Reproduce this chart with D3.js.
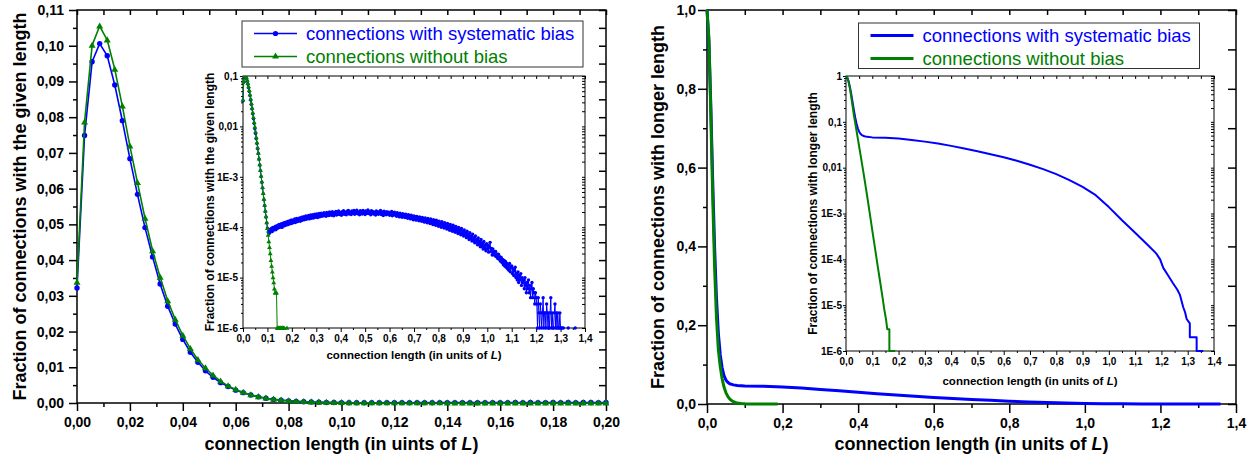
<!DOCTYPE html>
<html>
<head>
<meta charset="utf-8">
<script src="https://cdn.jsdelivr.net/npm/d3@7"></script>
<style>
  body { margin: 0; background: #fff; }
  svg { display: block; font-family: "Liberation Sans", Arial, sans-serif; }
</style>
</head>
<body>
<div id="chart"></div>
<script>
// histogram bin width (units of L); bin i starts at i * BIN
const BIN = 1 / 350

// fraction of connections with the given length, in parts per million
const biasedPpm = [
  32200, 74900, 95500, 100600, 97200, 89000, 79000, 68400, 58400, 49100,
  40900, 33300, 27100, 22100, 17800, 14200, 11400, 9000, 7200, 5700,
  4600, 3600, 2900, 2250, 1720, 1320, 1010, 780, 600, 460,
  350, 270, 205, 160, 122, 96, 80, 86, 76, 91,
  84, 95, 82, 99, 88, 96, 103, 89, 106, 94,
  109, 97, 114, 100, 104, 118, 99, 112, 121, 106,
  124, 109, 117, 128, 112, 131, 115, 122, 136, 118,
  139, 121, 133, 127, 145, 124, 138, 149, 129, 142,
  135, 152, 131, 146, 158, 137, 149, 162, 140, 155,
  167, 144, 158, 150, 171, 146, 163, 175, 151, 160,
  178, 152, 169, 181, 158, 165, 184, 156, 176, 187,
  161, 173, 190, 164, 179, 168, 194, 171, 183, 165,
  197, 174, 186, 170, 200, 177, 189, 172, 203, 181,
  168, 195, 185, 206, 174, 192, 183, 210, 178, 196,
  187, 172, 204, 191, 212, 180, 198, 189, 176, 207,
  194, 215, 183, 201, 192, 178, 210, 197, 186, 214,
  181, 203, 195, 218, 185, 199, 190, 176, 212, 196,
  205, 183, 216, 192, 200, 179, 209, 194, 188, 220,
  186, 202, 195, 177, 213, 190, 206, 182, 199, 193,
  174, 211, 188, 203, 180, 197, 192, 215, 178, 200,
  187, 170, 208, 185, 196, 176, 204, 189, 181, 199,
  172, 193, 184, 206, 168, 190, 179, 198, 174, 187,
  165, 195, 176, 183, 160, 189, 171, 180, 158, 185,
  167, 176, 155, 182, 162, 171, 150, 178, 159, 168,
  146, 173, 155, 162, 141, 168, 151, 159, 138, 164,
  147, 155, 134, 160, 142, 151, 131, 157, 139, 146,
  126, 153, 133, 141, 122, 149, 128, 138, 118, 145,
  124, 134, 113, 141, 120, 129, 109, 137, 116, 124,
  104, 132, 112, 119, 100, 128, 107, 115, 96, 123,
  101, 110, 92, 119, 97, 105, 87, 114, 93, 100,
  83, 109, 88, 96, 79, 104, 84, 91, 75, 99,
  78, 87, 71, 94, 74, 82, 67, 88, 69, 77,
  62, 83, 64, 72, 57, 78, 60, 67, 53, 73,
  55, 62, 49, 67, 51, 57, 45, 61, 46, 52,
  41, 57, 42, 48, 37, 52, 38, 44, 34, 47,
  37, 44, 32, 40, 50, 33, 38, 28, 37, 29,
  33, 27, 33, 26, 29, 24, 29, 23, 26, 21,
  25, 20, 23, 18, 22, 17, 21, 16, 19, 15,
  18, 14, 19, 13, 16, 17, 12, 15, 11, 14,
  16, 10, 12, 9, 13, 8, 11, 9, 12, 7,
  10, 8, 9, 6, 10, 7, 5, 8, 6, 9,
  5, 7, 4, 6, 8, 4, 6, 5, 3, 5,
  4, 3, 1, 4, 2, 1, 3, 2, 1, 2,
  4, 1, 2, 2, 1, 3, 2, 1, 2, 1,
  2, 4, 1, 2, 1, 1, 2, 3, 1, 2,
  1, 2, 1, 1, 2, 1, 1, 1, 0, 1,
  0, 0, 0, 0, 0, 0, 1, 0, 0, 0,
  0, 0, 0, 0, 0, 0, 1
]
const unbiasedPpm = [
  33800, 78600, 100100, 105500, 101600, 93400, 83100, 71900, 61700, 51700,
  42600, 35200, 28600, 23400, 18900, 15200, 12100, 9800, 7800, 6100,
  4800, 3800, 2950, 2280, 1750, 1350, 1040, 800, 615, 470,
  360, 275, 212, 162, 124, 95, 70, 52, 40, 30,
  22, 17, 13, 10, 8, 6, 5, 5, 5, 1,
  1, 1, 1, 1, 1, 1, 1, 1, 1, 1,
  0, 0, 0, 1, 0, 0, 0, 0, 0, 0, 0
]

// fraction of connections with longer length: [length, fraction]
const biasedLonger = [
  [0, 1], [0.005, 0.92], [0.01, 0.76], [0.015, 0.57], [0.02, 0.40], [0.025, 0.27],
  [0.03, 0.18], [0.035, 0.125], [0.04, 0.092], [0.045, 0.072], [0.05, 0.061],
  [0.055, 0.055], [0.06, 0.0515], [0.07, 0.0485], [0.08, 0.047], [0.1, 0.0458],
  [0.15, 0.045], [0.2, 0.0432], [0.25, 0.0403], [0.3, 0.037], [0.35, 0.0335],
  [0.4, 0.0299], [0.45, 0.0263], [0.5, 0.0229], [0.55, 0.0197], [0.6, 0.0168],
  [0.65, 0.0141], [0.7, 0.0116], [0.75, 0.0093], [0.8, 0.00724], [0.85, 0.00537],
  [0.9, 0.0038], [0.95, 0.00251], [1.0, 0.00138], [1.05, 7.1e-4], [1.1, 3.8e-4],
  [1.15, 2.0e-4], [1.18, 1.35e-4], [1.195, 1.0e-4], [1.207, 6.5e-5],
  [1.225, 4.5e-5], [1.244, 3.0e-5], [1.26, 2.2e-5], [1.27, 1.7e-5], [1.283, 9e-6],
  [1.29, 7e-6], [1.296, 5e-6], [1.308, 4e-6], [1.308, 2e-6], [1.334, 2e-6],
  [1.334, 1e-6], [1.359, 1e-6]
]
const unbiasedLonger = [
  [0, 1], [0.005, 0.93], [0.01, 0.74], [0.015, 0.53], [0.02, 0.35], [0.025, 0.22],
  [0.03, 0.138], [0.035, 0.095], [0.04, 0.064], [0.045, 0.043], [0.05, 0.029],
  [0.055, 0.0195], [0.06, 0.013], [0.065, 0.0087], [0.07, 0.0058], [0.075, 0.0038],
  [0.08, 0.0025], [0.09, 0.00105], [0.1, 4.3e-4], [0.11, 1.8e-4], [0.12, 7.5e-5],
  [0.13, 3.2e-5], [0.14, 1.35e-5], [0.145, 8.5e-6], [0.152, 5e-6], [0.157, 3e-6],
  [0.165, 3e-6], [0.165, 1e-6], [0.187, 1e-6]
]

const seriesNames = ["connections with systematic bias", "connections without bias"]
const BLUE = "#0000ff", GREEN = "#008000"

const loc = d3.formatLocale({decimal: ",", thousands: ".", grouping: [3], currency: ["", ""]})
const f2 = loc.format(".2f"), f1 = loc.format(".1f")
const logLabel = v => {
  const e = Math.round(Math.log10(v))
  if (e === 0) return "1"
  return e >= -2 ? "0," + "0".repeat(-e - 1) + "1" : `1E${e}`
}

const svg = d3.select("#chart").append("svg").attr("width", 1253).attr("height", 459)
const defs = svg.append("defs")

const bins = ppm => ppm.map((v, i) => ({x: i * BIN, y: v / 1e6}))
const pairs = arr => arr.map(([x, y]) => ({x, y}))
const steps = (a, b, s) => d3.range(a, b + s / 2, s)

function addAxis(g, axis, tx, ty, size, width) {
  const a = g.append("g").attr("transform", `translate(${tx},${ty})`).call(axis)
    .attr("font-family", null).attr("font-size", null)
  a.select(".domain").remove()
  a.selectAll("line").attr("stroke", "#000").attr("stroke-width", width)
  a.selectAll("text").attr("fill", "#000").style("font-size", size + "px").style("font-weight", "bold")
  return a
}

// draw four-sided axis frame; o holds tick sets and sizes
function frame(g, x, y, o) {
  const [x0, x1] = x.range(), [y0, y1] = y.range()
  const sw = o.stroke
  g.append("rect").attr("x", x0).attr("y", y1).attr("width", x1 - x0).attr("height", y0 - y1)
    .attr("fill", o.fill || "none")
  addAxis(g, d3.axisBottom(x).tickValues(o.xMinor).tickSize(o.minor).tickFormat(""), 0, y0, 0, sw)
  addAxis(g, d3.axisBottom(x).tickValues(o.xMajor).tickSize(o.major).tickPadding(o.xPad).tickFormat(o.xFmt), 0, y0, o.font, sw)
  addAxis(g, d3.axisLeft(y).tickValues(o.yMinor).tickSize(o.minorL || o.minor).tickFormat(""), x0, 0, 0, sw)
  addAxis(g, d3.axisLeft(y).tickValues(o.yMajor).tickSize(o.majorL || o.major).tickPadding(o.yPad).tickFormat(o.yFmt), x0, 0, o.font, sw)
  addAxis(g, d3.axisTop(x).tickValues(o.xTop).tickSize(-o.top).tickFormat(""), 0, y1, 0, sw)
  addAxis(g, d3.axisRight(y).tickValues(o.yRight).tickSize(-o.right).tickFormat(""), x1, 0, 0, sw)
  g.append("rect").attr("x", x0).attr("y", y1).attr("width", x1 - x0).attr("height", y0 - y1)
    .attr("fill", "none").attr("stroke", "#000").attr("stroke-width", sw)
}

function clipFor(id, x, y, pad) {
  const [x0, x1] = x.range(), [y0, y1] = y.range()
  defs.append("clipPath").attr("id", id).append("rect")
    .attr("x", x0 - pad).attr("y", y1).attr("width", x1 - x0 + 2 * pad).attr("height", y0 - y1 + pad)
  return `url(#${id})`
}

function series(g, x, y, data, color, o) {
  const line = d3.line().defined(d => d.y > 0 || !o.log).x(d => x(d.x)).y(d => y(d.y))
  g.append("path").datum(data).attr("fill", "none").attr("stroke", color)
    .attr("stroke-width", o.width).attr("stroke-linejoin", "round").attr("d", line)
  if (!o.marker) return
  const pts = data.filter(d => d.y > 0 || !o.log)
  if (o.marker === "circle")
    g.selectAll(null).data(pts).join("circle").attr("cx", d => x(d.x)).attr("cy", d => y(d.y))
      .attr("r", o.size).attr("fill", color)
  else
    g.selectAll(null).data(pts).join("path")
      .attr("transform", d => `translate(${x(d.x)},${y(d.y) + o.size * 0.08})`)
      .attr("d", d3.symbol(d3.symbolTriangle, o.size * o.size)).attr("fill", color)
}

function title(x, y, size, text, rotate, italicL) {
  const t = svg.append("text").attr("text-anchor", "middle").style("font-weight", "bold")
    .style("font-size", size + "px")
    .attr("transform", `translate(${x},${y})` + (rotate ? " rotate(-90)" : ""))
  if (italicL) {
    t.append("tspan").text(text)
    t.append("tspan").style("font-style", "italic").text("L")
    t.append("tspan").text(")")
  } else t.text(text)
}

function legend(bx, by, w, h, rows, marks, lineW) {
  const g = svg.append("g")
  g.append("rect").attr("x", bx).attr("y", by).attr("width", w).attr("height", h)
    .attr("fill", "#fff").attr("stroke", "#333").attr("stroke-width", 1)
  rows.forEach((r, k) => {
    const cy = by + 12.5 + k * 23
    g.append("line").attr("x1", bx + 12).attr("x2", bx + 55).attr("y1", cy).attr("y2", cy)
      .attr("stroke", r.color).attr("stroke-width", lineW)
    if (marks) {
      if (k === 0) g.append("circle").attr("cx", bx + 33.5).attr("cy", cy).attr("r", 2.6).attr("fill", r.color)
      else g.append("path").attr("transform", `translate(${bx + 33.5},${cy})`)
        .attr("d", d3.symbol(d3.symbolTriangle, 20)).attr("fill", r.color)
    }
    g.append("text").attr("x", bx + 64).attr("y", cy + 6.8).attr("fill", r.color)
      .style("font-size", "18.5px").text(r.name)
  })
}

const logMajor = y => y.ticks().filter(v => Math.abs(Math.log10(v) - Math.round(Math.log10(v))) < 1e-9)
const logMinor = y => y.ticks().filter(v => Math.abs(Math.log10(v) - Math.round(Math.log10(v))) >= 1e-9)

// ---------- left panel: distribution of connection lengths ----------
{
  const x = d3.scaleLinear([0, 0.2], [77, 606])
  const y = d3.scaleLinear([0, 0.11], [403, 10])
  const g = svg.append("g")
  frame(g, x, y, {
    stroke: 1.5, font: 14, major: 8, minor: 4, top: 5, right: 7, xPad: 6, yPad: 5,
    xMajor: steps(0, 0.2, 0.02), xMinor: steps(0.01, 0.19, 0.02), xFmt: f2,
    yMajor: steps(0, 0.11, 0.01), yMinor: steps(0.005, 0.105, 0.01), yFmt: f2,
    xTop: steps(0, 0.2, 0.01), yRight: steps(0, 0.11, 0.005)
  })
  const inRange = d => d.x <= 0.2 + 1e-9
  series(g, x, y, bins(biasedPpm).filter(inRange), BLUE, {width: 1.6, marker: "circle", size: 2.7})
  series(g, x, y, bins(unbiasedPpm).filter(inRange), GREEN, {width: 1.6, marker: "triangle", size: 4.6})

  // inset, log scale
  const xi = d3.scaleLinear([0, 1.4], [243, 585])
  const yi = d3.scaleLog([1e-6, 0.1], [328, 76])
  const gi = svg.append("g")
  frame(gi, xi, yi, {
    stroke: 1, font: 10, major: 4, minor: 2, majorL: 3, minorL: 0, top: 3, right: 3, xPad: 3, yPad: 2,
    fill: "#fff",
    xMajor: steps(0, 1.4, 0.1), xMinor: steps(0.05, 1.35, 0.1), xFmt: f1,
    yMajor: logMajor(yi), yMinor: logMinor(yi), yFmt: logLabel,
    xTop: steps(0, 1.4, 0.05), yRight: yi.ticks()
  })
  const pi = gi.append("g").attr("clip-path", clipFor("clipL", xi, yi, 3))
  series(pi, xi, yi, bins(biasedPpm), BLUE, {log: true, width: 1, marker: "circle", size: 1.7})
  series(pi, xi, yi, bins(unbiasedPpm), GREEN, {log: true, width: 1, marker: "triangle", size: 3.2})

  title(26, 206.5, 18, "Fraction of connections with the given length", true)
  title(341.5, 450, 18, "connection length (in uints of ", false, true)
  title(213.5, 202, 12, "Fraction of connections with the given length", true)
  title(414, 359, 11.5, "connection length (in units of ", false, true)

  legend(242, 21, 341, 46, seriesNames.map((name, k) => ({name, color: k ? GREEN : BLUE})), true, 1.6)
}

// ---------- right panel: fraction of connections with longer length ----------
{
  const x = d3.scaleLinear([0, 1.4], [707, 1236])
  const y = d3.scaleLinear([0, 1], [404, 10])
  const g = svg.append("g")
  frame(g, x, y, {
    stroke: 1.5, font: 14, major: 9, minor: 4, top: 5, right: 8, xPad: 5, yPad: 2,
    xMajor: steps(0, 1.4, 0.2), xMinor: steps(0.1, 1.3, 0.2), xFmt: f1,
    yMajor: steps(0, 1, 0.2), yMinor: steps(0.1, 0.9, 0.2), yFmt: f1,
    xTop: steps(0, 1.4, 0.1), yRight: steps(0, 1, 0.1)
  })
  series(g, x, y, pairs(biasedLonger), BLUE, {width: 3})
  series(g, x, y, pairs(unbiasedLonger), GREEN, {width: 3})

  const xi = d3.scaleLinear([0, 1.4], [846, 1214])
  const yi = d3.scaleLog([1e-6, 1], [351, 76])
  const gi = svg.append("g")
  frame(gi, xi, yi, {
    stroke: 1, font: 10, major: 4, minor: 2, majorL: 3, minorL: 2, top: 3, right: 3, xPad: 3, yPad: 1,
    fill: "#fff",
    xMajor: steps(0, 1.4, 0.1), xMinor: steps(0.05, 1.35, 0.1), xFmt: f1,
    yMajor: logMajor(yi), yMinor: logMinor(yi), yFmt: logLabel,
    xTop: steps(0, 1.4, 0.05), yRight: yi.ticks()
  })
  const pi = gi.append("g").attr("clip-path", clipFor("clipR", xi, yi, 3))
  series(pi, xi, yi, pairs(biasedLonger), BLUE, {log: true, width: 2})
  series(pi, xi, yi, pairs(unbiasedLonger), GREEN, {log: true, width: 2})

  title(664, 207, 18, "Fraction of connections with longer length", true)
  title(971.5, 450, 18, "connection length (in units of ", false, true)
  title(817, 213.5, 12, "Fraction of connections with longer length", true)
  title(1030, 385, 11.5, "connection length (in units of ", false, true)

  legend(858.5, 23, 341, 45.5, seriesNames.map((name, k) => ({name, color: k ? GREEN : BLUE})), false, 3)
}
</script>
</body>
</html>
